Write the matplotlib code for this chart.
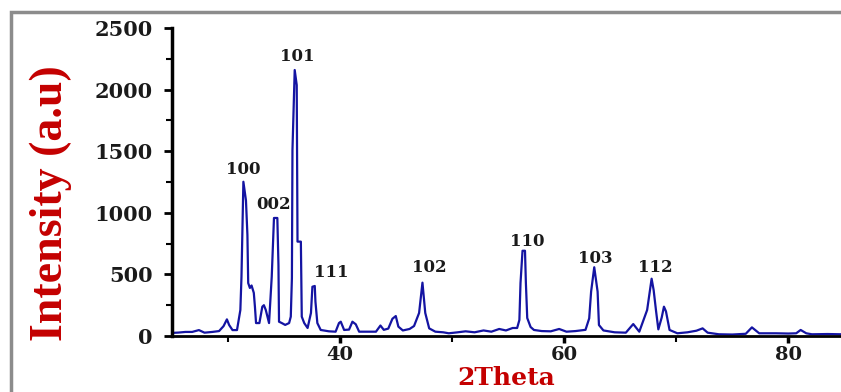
import matplotlib
matplotlib.use('Agg')
import matplotlib.pyplot as plt
from matplotlib.patches import Rectangle
from matplotlib.ticker import MultipleLocator

# XRD pattern (2theta in degrees, intensity in a.u.)
two_theta = [
    25.0, 25.6, 26.2, 26.8, 27.4, 27.9, 28.6, 29.2, 29.6, 29.9, 30.1, 30.4, 30.8,
    31.1, 31.2, 31.37, 31.6, 31.73, 31.8, 31.95, 32.1, 32.3, 32.4, 32.5, 32.8,
    33.06, 33.2, 33.37, 33.66, 33.9, 34.1, 34.4, 34.5, 34.55, 34.8, 35.1, 35.45,
    35.6, 35.7, 35.75, 35.95, 36.13, 36.2, 36.5, 36.58, 36.8, 37.1, 37.4, 37.53,
    37.74, 37.8, 37.97, 38.27, 39.0, 39.6, 39.9, 40.06, 40.36, 40.8, 41.1, 41.4,
    41.7, 42.5, 43.2, 43.6, 43.9, 44.3, 44.67, 44.97, 45.2, 45.6, 46.2, 46.6,
    47.05, 47.35, 47.6, 47.95, 48.5, 49.2, 49.7, 50.5, 51.2, 52.0, 52.8, 53.5,
    54.2, 54.8, 55.4, 55.8, 56.0, 56.1, 56.28, 56.5, 56.58, 56.7, 57.0, 57.3,
    58.0, 58.8, 59.55, 60.2, 61.0, 61.9, 62.23, 62.4, 62.68, 62.98, 63.1, 63.5,
    64.5, 65.5, 66.16, 66.7, 67.4, 67.8, 67.98, 68.2, 68.4, 68.7, 68.9, 69.08,
    69.4, 70.1, 71.0, 71.8, 72.35, 72.8, 73.8, 75.0, 76.2, 76.75, 77.4, 78.9,
    80.0, 80.7, 81.1, 81.6, 82.1, 83.5, 84.7,
]
intensity = [
    25, 28, 33, 33, 48, 27, 33, 40, 80, 135, 89, 48, 48,
    211, 481, 1252, 1100, 820, 430, 390, 410, 350, 238, 105, 105,
    238, 250, 211, 105, 481, 958, 958, 576, 116, 105, 90, 105,
    157, 470, 1510, 2159, 2037, 766, 766, 157, 105, 65, 187, 400,
    406, 279, 105, 49, 38, 35, 105, 116, 49, 52, 116, 95,
    35, 35, 35, 85, 50, 60, 140, 162, 76, 45, 57, 81,
    187, 433, 187, 62, 35, 30, 22, 30, 38, 30, 45, 35,
    57, 45, 65, 65, 130, 430, 692, 692, 430, 146, 73, 49,
    40, 38, 57, 35, 40, 50, 143, 360, 558, 360, 89, 45,
    30, 27, 97, 35, 211, 465, 373, 200, 54, 150, 238, 200,
    49, 22, 30, 43, 62, 27, 14, 12, 18, 70, 22, 22,
    20, 22, 49, 22, 14, 16, 14,
]

# Miller indices of the labelled reflections and where the label sits
hkl = ['100', '002', '101', '111', '102', '110', '103', '112']
hkl_theta = [31.34, 34.1, 36.2, 39.2, 47.95, 56.7, 62.8, 68.1]
hkl_height = [1355, 1064, 2265, 519, 552, 771, 633, 552]

W, H = 841, 392
fig = plt.figure(figsize=(W / 100, H / 100), dpi=100)
fig.patch.set_facecolor('white')

# grey frame around the panel (runs off the right/bottom edges)
frame = Rectangle((11 / W, -0.5), 2.0, (H - 12) / H + 0.5, transform=fig.transFigure,
                  fill=False, ec='#8c8c8c', lw=2.5, clip_on=False)
fig.add_artist(frame)

ax = fig.add_axes([172 / W, 56 / H, 669 / W, 308 / H])
ax.plot(two_theta, intensity, color='#1414a2', lw=1.6)

ax.set_xlim(25, 84.7)
ax.set_ylim(0, 2500)
ax.xaxis.set_major_locator(MultipleLocator(20))
ax.xaxis.set_minor_locator(MultipleLocator(10))
ax.yaxis.set_major_locator(MultipleLocator(500))
ax.yaxis.set_minor_locator(MultipleLocator(250))

for side in ['top', 'right']:
    ax.spines[side].set_visible(False)
ax.spines['left'].set_linewidth(2.5)
ax.spines['bottom'].set_linewidth(2.0)

ax.tick_params(axis='y', which='major', direction='out', length=6, width=2, pad=8)
ax.tick_params(axis='x', which='major', direction='out', length=5, width=2.5, pad=2)
ax.tick_params(which='minor', direction='out', length=4, width=1.5)

for lab in ax.get_yticklabels():
    lab.set_fontfamily('DejaVu Serif')
    lab.set_fontweight('bold')
    lab.set_fontsize(15)
    lab.set_color('#1a1a1a')
for lab in ax.get_xticklabels():
    lab.set_fontfamily('DejaVu Serif')
    lab.set_fontweight('bold')
    lab.set_fontsize(14)
    lab.set_color('#1a1a1a')

for name, t, h in zip(hkl, hkl_theta, hkl_height):
    ax.text(t, h, name, ha='center', va='center', family='DejaVu Serif',
            weight='bold', fontsize=12, color='#1a1a1a')

ax.set_xlabel('2Theta', family='DejaVu Serif', weight='bold', fontsize=18,
              color='#c40000')
ax.xaxis.set_label_coords(0.5, -0.1607)
ax.xaxis.label.set_va('baseline')

ax.set_ylabel('Intensity (a.u)', family='Liberation Serif', weight='bold',
              fontsize=33, color='#c40000')
ax.yaxis.set_label_coords(-0.181, 0.432)
ax.yaxis.label.set_va('center')

fig.savefig('out.png', dpi=100)
